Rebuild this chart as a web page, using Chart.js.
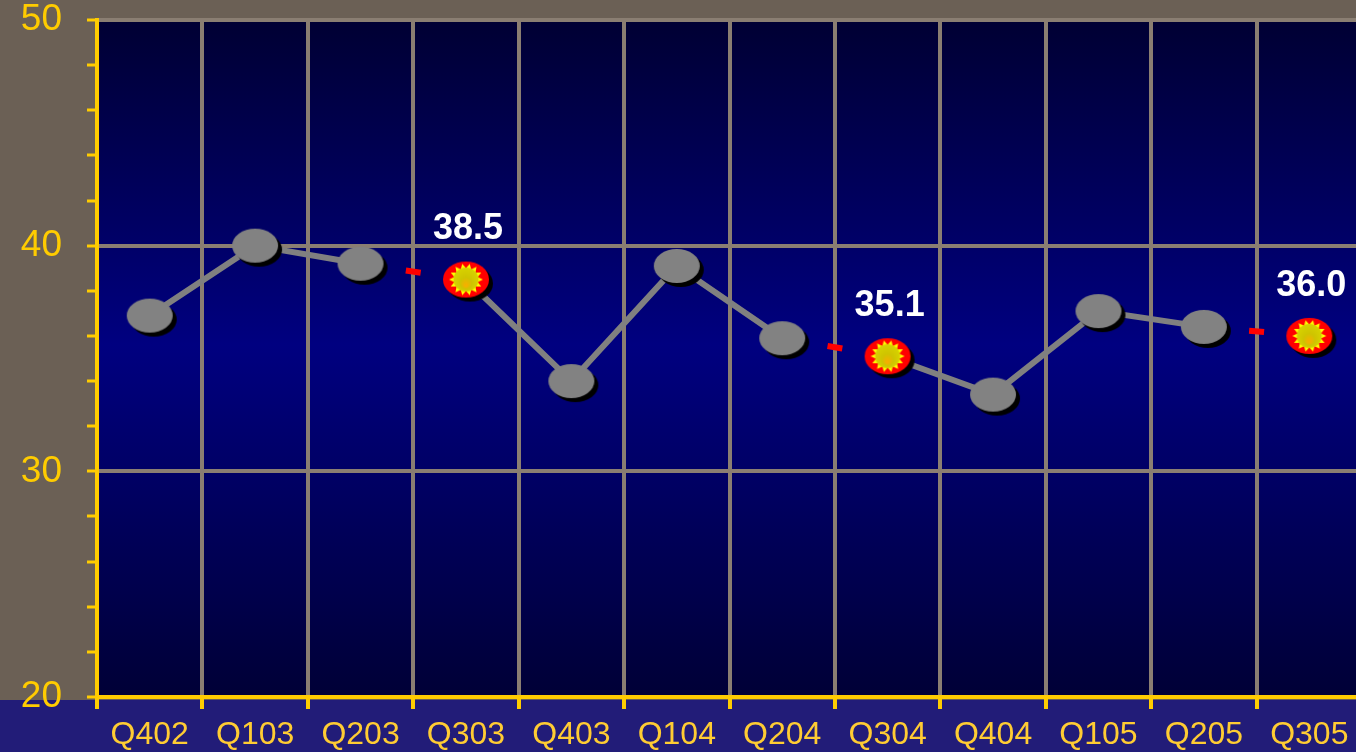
<!DOCTYPE html>
<html>
<head>
<meta charset="utf-8">
<title>Quarterly trend</title>
<script src="https://cdn.jsdelivr.net/npm/chart.js"></script>
<style>
  html, body { margin: 0; padding: 0; background: #6b6055; overflow: hidden; }
  canvas { display: block; }
</style>
</head>
<body>
<canvas id="chart" width="1366" height="752"></canvas>
<script>
// values
const quarters = ['Q402', 'Q103', 'Q203', 'Q303', 'Q403', 'Q104', 'Q204', 'Q304', 'Q404', 'Q105', 'Q205', 'Q305'];
const values = [36.9, 40.0, 39.2, 38.5, 34.0, 39.1, 35.9, 35.1, 33.4, 37.1, 36.4, 36.0];
const highlighted = [3, 7, 11];   // Q3 points with labels
const yRange = [20, 50];
const yMajorStep = 10;
const yMinorStep = 2;

const YELLOW = '#ffcc00';
const LABEL = '#ffcc33';
const GRID = '#8a7e72';
const LINE = '#808080';
const isHi = i => highlighted.includes(i);

function makeMarker(hi) {
  const c = document.createElement('canvas');
  c.width = 58; c.height = 48;
  const g = c.getContext('2d');
  const cx = 29, cy = 24, rx = 23, ry = hi ? 18 : 17;
  g.fillStyle = '#000';
  g.beginPath(); g.ellipse(cx + 4, cy + 4, rx, ry, 0, 0, Math.PI * 2); g.fill();
  g.fillStyle = hi ? '#ff0000' : '#828282';
  g.beginPath(); g.ellipse(cx, cy, rx, ry, 0, 0, Math.PI * 2); g.fill();
  if (hi) {
    const n = 14;
    g.fillStyle = '#ffff00';
    g.beginPath();
    for (let i = 0; i < n * 2; i++) {
      const a = i * Math.PI / n;
      const r = i % 2 ? 12 : 17;
      const px = cx + Math.cos(a) * r, py = cy + Math.sin(a) * r * 0.95;
      if (i) g.lineTo(px, py); else g.moveTo(px, py);
    }
    g.closePath(); g.fill();
    const rg = g.createRadialGradient(cx, cy + 6, 1, cx, cy, 13);
    rg.addColorStop(0, '#f5b000');
    rg.addColorStop(0.4, '#cfc400');
    rg.addColorStop(1, '#d8d400');
    g.fillStyle = rg;
    g.beginPath(); g.ellipse(cx, cy, 12.5, 12, 0, 0, Math.PI * 2); g.fill();
  }
  return c;
}
const greyMarker = makeMarker(false);
const hiMarker = makeMarker(true);

const backdrop = {
  id: 'backdrop',
  beforeDraw(chart) {
    const { ctx, chartArea: a, width, height } = chart;
    ctx.save();
    ctx.fillStyle = '#6b6055';
    ctx.fillRect(0, 0, width, height);
    ctx.fillStyle = '#221c78';
    ctx.fillRect(0, a.bottom + 3, width, height - a.bottom);
    const grad = ctx.createLinearGradient(0, a.top, 0, a.bottom);
    grad.addColorStop(0, '#000033');
    grad.addColorStop(0.48, '#000080');
    grad.addColorStop(1, '#000036');
    ctx.fillStyle = grad;
    ctx.fillRect(a.left, a.top, a.right - a.left, a.bottom - a.top);
    ctx.restore();
  }
};

const valueLabels = {
  id: 'valueLabels',
  afterDatasetsDraw(chart) {
    const { ctx } = chart;
    const meta = chart.getDatasetMeta(0);
    ctx.save();
    ctx.fillStyle = '#ffffff';
    ctx.font = 'bold 36px "Liberation Sans", Arial, sans-serif';
    ctx.textAlign = 'center';
    ctx.textBaseline = 'middle';
    highlighted.forEach(i => {
      const p = meta.data[i];
      ctx.fillText(values[i].toFixed(1), p.x + 2, p.y - 50);
    });
    ctx.restore();
  }
};

// keep the plot area where the slide has it; no extra room for label overhang
function noPadding(s) {
  s.paddingTop = 0; s.paddingBottom = 0; s.paddingLeft = 0; s.paddingRight = 0;
}

new Chart(document.getElementById('chart'), {
  type: 'line',
  data: {
    labels: quarters,
    datasets: [{
      data: values,
      borderColor: LINE,
      borderWidth: 6,
      pointStyle: values.map((v, i) => isHi(i) ? hiMarker : greyMarker),
      pointRadius: 1,
      pointBorderWidth: 0,
      segment: {
        borderColor: s => isHi(s.p1DataIndex) ? '#ff0000' : undefined,
        borderDash: s => isHi(s.p1DataIndex) ? [15, 400] : undefined,
        borderDashOffset: s => {
          if (!isHi(s.p1DataIndex)) return undefined;
          const len = Math.hypot(s.p1.x - s.p0.x, s.p1.y - s.p0.y);
          return 415 - (len / 2 - 7.5);
        }
      }
    }]
  },
  options: {
    responsive: false,
    animation: false,
    events: [],
    layout: { padding: { top: 20, left: 0, right: 0, bottom: 0 } },
    plugins: { legend: { display: false }, tooltip: { enabled: false } },
    scales: {
      x: {
        offset: true,
        grid: {
          offset: true,
          color: c => c.index === 0 ? 'transparent' : GRID,
          lineWidth: 4,
          tickColor: YELLOW,
          tickWidth: 4,
          tickLength: 12
        },
        border: { color: YELLOW, width: 4 },
        ticks: {
          color: LABEL,
          font: { family: '"Liberation Sans", Arial, sans-serif', size: 32, lineHeight: 1.2 },
          padding: 7,
          autoSkip: false,
          maxRotation: 0
        },
        afterFit: s => { s.height = 55; noPadding(s); }
      },
      y: {
        min: yRange[0],
        max: yRange[1],
        grid: {
          color: c => (c.tick && c.tick.value % yMajorStep === 0 && c.tick.value !== yRange[0]) ? GRID : 'transparent',
          lineWidth: 4,
          tickColor: YELLOW,
          tickWidth: 3,
          tickLength: 10
        },
        border: { color: YELLOW, width: 4 },
        ticks: {
          stepSize: yMinorStep,
          autoSkip: false,
          callback: v => v % yMajorStep === 0 ? v : '',
          color: YELLOW,
          font: { family: '"Liberation Sans", Arial, sans-serif', size: 37, lineHeight: 1 },
          padding: 25
        },
        afterFit: s => { s.width = 97; noPadding(s); }
      }
    }
  },
  plugins: [backdrop, valueLabels]
});
</script>
</body>
</html>
